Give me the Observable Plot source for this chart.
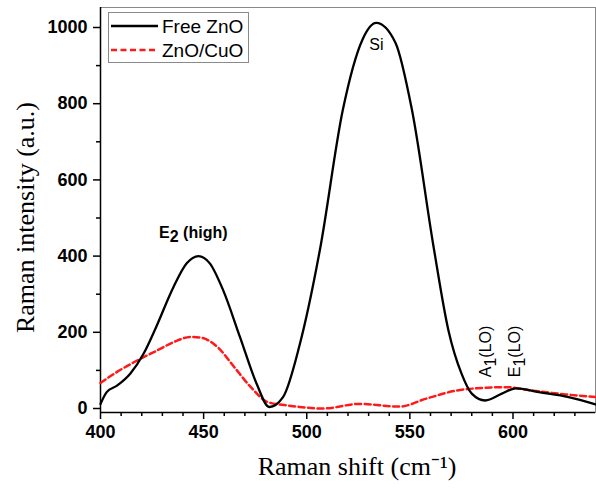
<!DOCTYPE html>
<html><head><meta charset="utf-8">
<script src="https://cdn.jsdelivr.net/npm/d3@7"></script>
<script src="https://cdn.jsdelivr.net/npm/@observablehq/plot@0.6"></script>
<style>
body{margin:0;background:#fff;}
#wrap{position:relative;width:596px;height:493px;}
#legend{position:absolute;left:108px;top:12px;}
</style></head><body><div id="wrap"></div>
<script>
// Free ZnO (black, solid)
const shiftFree = [400,403,408,414.5,421,427,435.4,441.8,447.5,453,459.5,467.6,475.7,481.8,488.5,496.6,506.5,517.5,527,533.7,543,551,561.5,568.7,575,580,586.5,594.6,601.4,612.6,627,640];
const intensityFree = [12,43,60,92,145,214,319,381,400,381,310,188,65,4,30,168,420,784,968,1012,960,784,424,205,92,39,21,39,53,43,30,11];
// ZnO/CuO (red, dashed)
const shiftCuO = [400,408,416.4,427.7,435.8,443.8,448.7,456.8,464.8,472.9,481,490.6,496.6,507.9,525.6,545,558,572.5,585.4,596.6,609.5,625.6,640];
const intensityCuO = [67,96,122,153,175,188,186,161,109,56,17,8,4,0,12,5,26,47,54,56,47,37,30];

const seriesNames = ["Free ZnO","ZnO/CuO"];
const xTicks = [400,450,500,550,600];
const xMinor = [410,420,430,440,460,470,480,490,510,520,530,540,560,570,580,590,610,620,630];
const yTicks = [0,200,400,600,800,1000];
const yMinor = [100,300,500,700,900];
const xDomain = [400,640];
const yDomain = [-10.5,1052.5];

// peak annotations
const boldText = ["E_2 (high)"];
const boldX = [445];
const boldY = [462];
const plainText = ["Si"];
const plainX = [533.8];
const plainY = [955];
const rotText = ["A_1(LO)", "E_1(LO)"];
const rotX = [587, 601];
const rotY = [82, 82];

const free = shiftFree.map((x,i)=>({x, y:intensityFree[i]}));
const cuo = shiftCuO.map((x,i)=>({x, y:intensityCuO[i]}));
const boldA = boldText.map((t,i)=>({t, x:boldX[i], y:boldY[i]}));
const plainA = plainText.map((t,i)=>({t, x:plainX[i], y:plainY[i]}));
const rot = rotText.map((t,i)=>({t, x:rotX[i], y:rotY[i]}));

const serif = "'Liberation Serif', 'Times New Roman', serif";

const chart = Plot.plot({
  width:596, height:493,
  marginLeft:100, marginRight:1, marginTop:7, marginBottom:81,
  x:{domain:xDomain},
  y:{domain:yDomain},
  style:{fontFamily:"'Liberation Sans', Arial, sans-serif", background:"white", color:"black"},
  marks:[
    Plot.frame({stroke:"#8a8a8a", strokeWidth:1}),
    Plot.axisY(yTicks,{tickSize:7, tickPadding:6, fontSize:18, fontWeight:"bold", tickFormat:"d", label:null, strokeWidth:1.5}),
    Plot.axisY(yMinor,{tickSize:4, text:null, label:null, strokeWidth:1.5}),
    Plot.axisX(xTicks,{tickSize:7, tickPadding:6, fontSize:18, fontWeight:"bold", tickFormat:"d", label:null, strokeWidth:1.5}),
    Plot.axisX(xMinor,{tickSize:4, text:null, label:null, strokeWidth:1.5}),
    Plot.ruleX([xDomain[0]],{stroke:"black", strokeWidth:1.5}),
    Plot.ruleY([yDomain[0]],{stroke:"black", strokeWidth:1.5}),
    Plot.line(cuo,{x:"x", y:"y", stroke:"#ff1a1a", strokeWidth:2.5, strokeDasharray:"6,3.5", curve:"monotone-x"}),
    Plot.line(free,{x:"x", y:"y", stroke:"black", strokeWidth:2.3, curve:"monotone-x"}),
    Plot.text(boldA,{x:"x", y:"y", text:"t", fontWeight:"bold", fontSize:16, className:"subtxt"}),
    Plot.text(plainA,{x:"x", y:"y", text:"t", fontSize:16}),
    Plot.text(rot,{x:"x", y:"y", text:"t", rotate:-90, textAnchor:"start", fontSize:16, className:"subtxt"}),
    Plot.text(["Raman intensity (a.u.)"],{frameAnchor:"left", rotate:-90, textAnchor:"middle", dx:-75, dy:7.5, fontSize:26, fontFamily:serif}),
    Plot.text(["Raman shift (cm\u207B\u00B9)"],{frameAnchor:"bottom", textAnchor:"middle", dx:9, dy:62, fontSize:26, fontFamily:serif})
  ]
});

// subscripts
d3.select(chart).selectAll(".subtxt text").each(function(){
  const t = this.textContent;
  const m = t.match(/^(.*)_(\d)(.*)$/);
  if(!m) return;
  const sel = d3.select(this);
  sel.text(null);
  sel.append("tspan").text(m[1]);
  sel.append("tspan").attr("dy","0.3em").text(m[2]);
  sel.append("tspan").attr("dy","-0.3em").text(m[3]);
});

const wrap = document.getElementById("wrap");
wrap.appendChild(chart);

// legend
const leg = d3.select(wrap).append("svg").attr("id","legend").attr("width",142).attr("height",52);
leg.append("rect").attr("x",0.5).attr("y",0.5).attr("width",140).attr("height",50).attr("fill","white").attr("stroke","#8a8a8a");
const styles = [{stroke:"black", dash:null},{stroke:"#ff1a1a", dash:"6,3.5"}];
seriesNames.forEach((n,i)=>{
  const yy = 14 + i*24;
  leg.append("line").attr("x1",3).attr("x2",50).attr("y1",yy).attr("y2",yy)
    .attr("stroke",styles[i].stroke).attr("stroke-width",2.5).attr("stroke-dasharray",styles[i].dash);
  leg.append("text").attr("x",54).attr("y",yy+6.5).attr("font-size",19)
    .attr("font-family","'Liberation Sans', Arial, sans-serif").text(n);
});
</script></body></html>
